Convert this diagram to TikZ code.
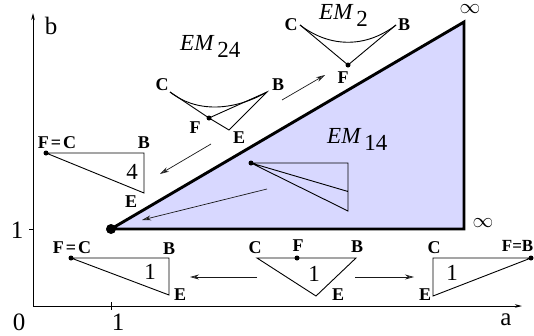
\documentclass[tikz,border=0pt]{standalone}
\usepackage{fontspec}
\setmainfont{Liberation Serif}
\usetikzlibrary{arrows.meta}
\tikzset{
 x=1pt,y=-1pt,
 ln/.style={draw=black,line width=0.9pt,line join=miter},
 arr/.style={draw=black!90,line width=0.7pt,-{Stealth[length=9pt,width=5pt,inset=3pt,fill=black!45]}},
 axis/.style={draw=black,line width=0.9pt,-{Stealth[length=7pt,width=3.5pt,inset=2pt]}},
 pt/.style={circle,fill=black,inner sep=0pt,minimum size=6pt},
 lab/.style={font=\fontsize{18}{18}\selectfont\bfseries,inner sep=0pt},
 num/.style={font=\fontsize{25}{25}\selectfont,inner sep=0pt},
 tnum/.style={font=\fontsize{23}{23}\selectfont,inner sep=0pt},
 em/.style={font=\fontsize{23}{23}\selectfont,inner sep=0pt},
 inf/.style={font=\fontsize{20}{20}\selectfont,inner sep=0pt,text height=5pt,text depth=0pt},
}
\newcommand{\emlab}[1]{\textit{EM}\kern3pt\raisebox{-7pt}{#1}}
\begin{document}
\begin{tikzpicture}
\useasboundingbox (0,0) rectangle (534,335);
% axes
\coordinate (O) at (33,306);
\coordinate (Ay) at (33,13);
\coordinate (Ax) at (522,306);
\draw[axis] (O) -- (Ay);
\draw[axis] (O) -- (Ax);
\draw[line width=.7pt] (111,302) -- (111,310);
\draw[line width=.7pt] (29,229.5) -- (33,229.5);
\node[num] at (19,322) {0};
\node[num] at (118,322) {1};
\node[num] at (17,230) {1};
\node[num] at (51,26) {b};
\node[num] at (506,320) {a};
% main region
\coordinate (P1) at (111,229);
\coordinate (P2) at (464,229);
\coordinate (P3) at (464,22);
\draw[line width=2.9pt,draw=black,fill={rgb,255:red,216;green,216;blue,255},line join=miter] (P1) -- (P2) -- (P3) -- cycle;
\node[pt,minimum size=10pt] (d0) at (P1) {};
\node[inf] at (470,11) {$\infty$};
\node[inf] at (483,225) {$\infty$};
% region labels
\node[em,anchor=west] at (180,46) {\emlab{24}};
\node[em,anchor=west] at (319,15) {\emlab{2}};
\node[em,anchor=west] at (327,139) {\emlab{14}};
% EM14 triangle
\node[pt,minimum size=5pt] (a0) at (251,163) {};
\coordinate (a1) at (348,163);
\coordinate (a2) at (348,191.5);
\coordinate (a3) at (348,211);
\draw[ln] (a0.center) -- (a1) -- (a3) -- (a0.center) (a0.center) -- (a2);
\coordinate (a4) at (267,189);
\coordinate (a5) at (142,220);
\draw[arr] (a4) -- (a5);
% EM2
\coordinate (b1) at (300,25);
\coordinate (b2) at (396,25);
\node[pt,minimum size=5pt] (b3) at (348,65) {};
\draw[ln] (b1) -- (b3.center) -- (b2);
\draw[ln] (b1) .. controls (330,48) and (366,48) .. (b2);
\node[lab] at (291,25) {C};
\node[lab] at (404,25) {B};
\node[lab] at (343,78) {F};
% EM24
\coordinate (c1) at (170,92);
\coordinate (c2) at (267,92);
\node[pt,minimum size=5pt] (c3) at (209,118) {};
\coordinate (c4) at (229,130);
\draw[ln] (c1) -- (c3.center) -- (c4) -- (c2) -- (c3.center);
\draw[ln] (c1) .. controls (195,112) and (232,112) .. (c2);
\node[lab] at (162,85) {C};
\node[lab] at (278,85) {B};
\node[lab] at (195,128) {F};
\node[lab] at (239,138) {E};
% arrows between
\coordinate (e1) at (282,100);
\coordinate (e2) at (325,75);
\draw[arr] (e1) -- (e2);
\coordinate (e3) at (211,144);
\coordinate (e4) at (160,174);
\draw[arr] (e3) -- (e4);
% triangle 4
\node[pt,minimum size=5pt] (f1) at (46,153) {};
\coordinate (f2) at (144,153);
\coordinate (f3) at (144,193);
\draw[ln] (f1.center) -- (f2) -- (f3) -- cycle;
\node[lab] at (57,143) {F\kern2pt=\kern2pt C};
\node[lab] at (144,143) {B};
\node[lab] at (131,202) {E};
\node[tnum] at (132,172) {4};
% bottom left
\node[pt,minimum size=5pt] (g1) at (71,258) {};
\coordinate (g2) at (169,258);
\coordinate (g3) at (169,295);
\draw[ln] (g1.center) -- (g2) -- (g3) -- cycle;
\node[lab] at (72,248) {F\kern2pt=\kern2pt C};
\node[lab] at (169,249) {B};
\node[lab] at (180,295) {E};
\node[tnum] at (150,272) {1};
% bottom middle
\coordinate (h1) at (257,258);
\coordinate (h2) at (356,258);
\coordinate (h3) at (316,296);
\node[pt,minimum size=5pt] (h4) at (297,258) {};
\draw[ln] (h1) -- (h2) -- (h3) -- cycle;
\node[lab] at (255,248) {C};
\node[lab] at (298,246) {F};
\node[lab] at (357,247) {B};
\node[lab] at (338,295) {E};
\node[tnum] at (314,274) {1};
% bottom right
\coordinate (k1) at (433,258);
\node[pt,minimum size=5pt] (k2) at (531,258) {};
\coordinate (k3) at (433,296);
\draw[ln] (k1) -- (k2.center) -- (k3) -- cycle;
\node[lab] at (434,248) {C};
\node[lab,anchor=east,font=\fontsize{17}{17}\selectfont\bfseries] at (533.5,246) {F=B};
\node[lab] at (425,295) {E};
\node[tnum] at (452,273) {1};
% bottom arrows
\coordinate (m1) at (257,277);
\coordinate (m2) at (190,277);
\coordinate (m3) at (355,277);
\coordinate (m4) at (414,277);
\draw[arr] (m1) -- (m2);
\draw[arr] (m3) -- (m4);
\end{tikzpicture}
\end{document}
